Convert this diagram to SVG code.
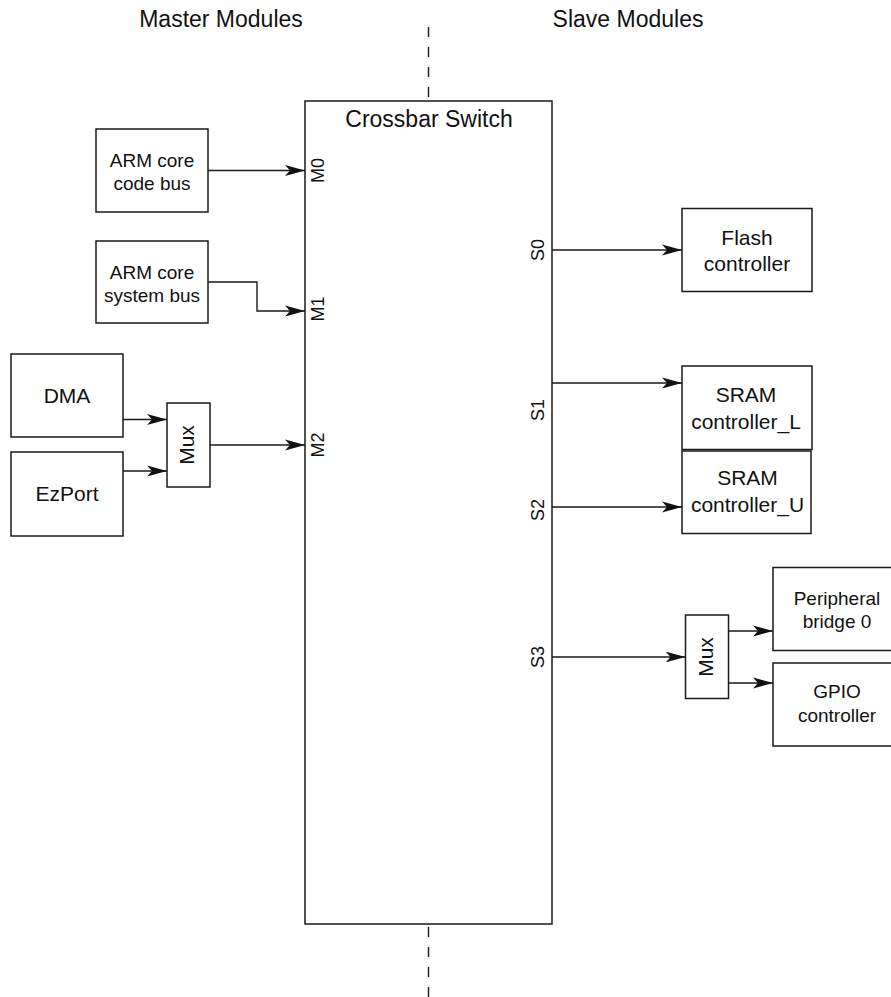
<svg xmlns="http://www.w3.org/2000/svg" width="891" height="997" viewBox="0 0 891 997">
<style>
.box{fill:#fff;stroke:#1a1a1a;stroke-width:1.5}
.ln{fill:none;stroke:#1a1a1a;stroke-width:1.4}
.dash{fill:none;stroke:#1a1a1a;stroke-width:1.4;stroke-dasharray:10 10}
text{font-family:"Liberation Sans",Arial,Helvetica,sans-serif;fill:#111}
.t19{font-size:19px;text-anchor:middle}
.t21{font-size:21px;text-anchor:middle}
.t23{font-size:23px;text-anchor:middle}
.lbl{font-size:18px;text-anchor:middle}
</style>
<defs>
<marker id="arr" viewBox="0 0 20 12" refX="20" refY="6" markerWidth="20" markerHeight="12" markerUnits="userSpaceOnUse" orient="auto">
<path d="M0,0.5 L20,6 L0,11.5 L5,6 Z" fill="#111"/>
</marker>
</defs>
<rect width="891" height="997" fill="#fff"/>
<text class="t23" x="221" y="27">Master Modules</text>
<text class="t23" x="628" y="27">Slave Modules</text>
<path class="dash" d="M428.5,27 V100"/>
<path class="dash" d="M428.5,927 V997"/>
<g id="crossbar">
<rect class="box" x="305" y="101" width="247" height="823"/>
<text class="t23" x="429" y="127">Crossbar Switch</text>
<text class="lbl" transform="translate(323.5,170.5) rotate(-90)">M0</text>
<text class="lbl" transform="translate(323.5,309) rotate(-90)">M1</text>
<text class="lbl" transform="translate(323.5,445) rotate(-90)">M2</text>
<text class="lbl" transform="translate(543.5,250) rotate(-90)">S0</text>
<text class="lbl" transform="translate(543.5,410) rotate(-90)">S1</text>
<text class="lbl" transform="translate(543.5,510) rotate(-90)">S2</text>
<text class="lbl" transform="translate(543.5,657) rotate(-90)">S3</text>
</g>
<g id="arm-code">
<rect class="box" x="96" y="129" width="112" height="83"/>
<text class="t19" x="152" y="166.5">ARM core</text>
<text class="t19" x="152" y="189.5">code bus</text>
</g>
<g id="arm-system">
<rect class="box" x="96" y="241" width="112" height="82"/>
<text class="t19" x="152" y="278.5">ARM core</text>
<text class="t19" x="152" y="301.5">system bus</text>
</g>
<g id="dma">
<rect class="box" x="11" y="354" width="112" height="83"/>
<text class="t21" x="67" y="402.5">DMA</text>
</g>
<g id="ezport">
<rect class="box" x="11" y="452" width="112" height="84"/>
<text class="t21" x="67" y="500.5">EzPort</text>
</g>
<g id="mux-master">
<rect class="box" x="167" y="403" width="43" height="84"/>
<text class="t21" transform="translate(194,445) rotate(-90)">Mux</text>
</g>
<g id="flash">
<rect class="box" x="682" y="208.5" width="130" height="83"/>
<text class="t21" x="747" y="244.5">Flash</text>
<text class="t21" x="747" y="271">controller</text>
</g>
<g id="sram-l">
<rect class="box" x="682" y="366" width="130" height="83.5"/>
<text class="t21" x="746" y="401.5">SRAM</text>
<text class="t21" x="746" y="429">controller_L</text>
</g>
<g id="sram-u">
<rect class="box" x="682" y="451" width="129" height="82.5"/>
<text class="t21" x="747.5" y="485">SRAM</text>
<text class="t21" x="747.5" y="511.5">controller_U</text>
</g>
<g id="mux-slave">
<rect class="box" x="685.5" y="615" width="43" height="83.5"/>
<text class="t21" transform="translate(713,657) rotate(-90)">Mux</text>
</g>
<g id="periph">
<rect class="box" x="773" y="567.5" width="130" height="83"/>
<text class="t19" x="837" y="604.5">Peripheral</text>
<text class="t19" x="837" y="628">bridge 0</text>
</g>
<g id="gpio">
<rect class="box" x="773" y="663" width="130" height="83"/>
<text class="t19" x="837" y="697.5">GPIO</text>
<text class="t19" x="837" y="722">controller</text>
</g>
<g id="connectors">
<path class="ln" marker-end="url(#arr)" d="M208,170.5 H305"/>
<path class="ln" marker-end="url(#arr)" d="M208,282 H257 V311 H305"/>
<path class="ln" marker-end="url(#arr)" d="M123,419.5 H167"/>
<path class="ln" marker-end="url(#arr)" d="M123,471 H167"/>
<path class="ln" marker-end="url(#arr)" d="M210,445 H305"/>
<path class="ln" marker-end="url(#arr)" d="M552,250 H682"/>
<path class="ln" marker-end="url(#arr)" d="M552,383 H682"/>
<path class="ln" marker-end="url(#arr)" d="M552,507 H682"/>
<path class="ln" marker-end="url(#arr)" d="M552,657 H685.5"/>
<path class="ln" marker-end="url(#arr)" d="M728.5,631 H773"/>
<path class="ln" marker-end="url(#arr)" d="M728.5,683 H773"/>
</g>
</svg>
